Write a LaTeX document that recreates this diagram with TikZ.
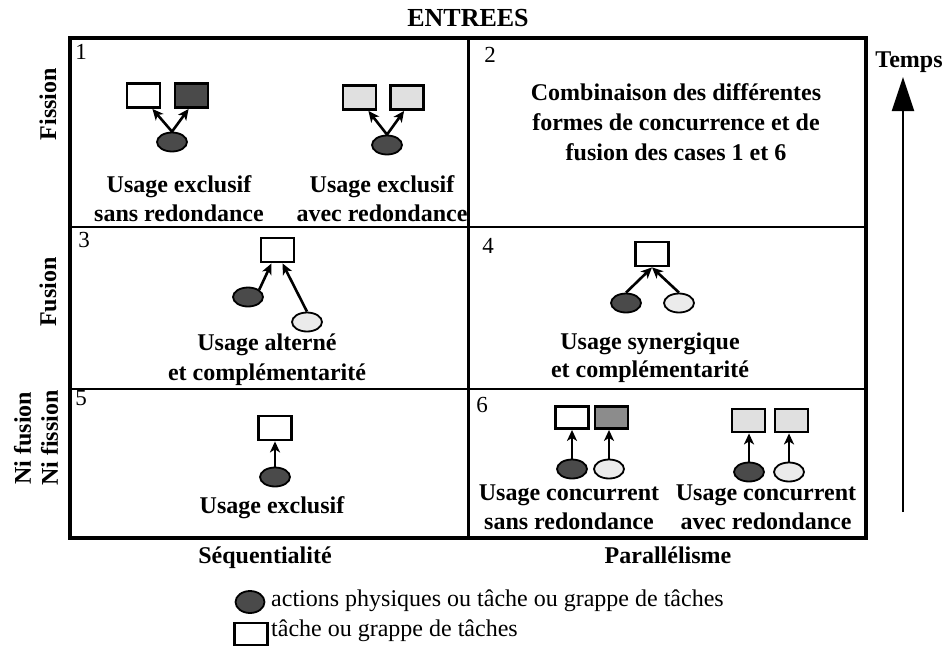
\documentclass[tikz,border=0pt]{standalone}
\usepackage{fontspec}
\setmainfont{Liberation Serif}
\usetikzlibrary{shapes.geometric,arrows.meta}
\definecolor{darkfill}{HTML}{4A4A4A}
\definecolor{midfill}{HTML}{8C8C8C}
\definecolor{lightfill}{HTML}{E0E0E0}
\definecolor{lightell}{HTML}{EBEBEB}
\begin{document}
\begin{tikzpicture}[x=1pt,y=-1pt,
  lbl/.style={font=\fontsize{24}{29}\selectfont\bfseries, align=center, inner sep=0},
  num/.style={font=\fontsize{23}{26}\selectfont, inner sep=0},
  side/.style={font=\fontsize{24}{27}\selectfont\bfseries, align=center, rotate=90, inner sep=0},
  leg/.style={font=\fontsize{24}{26}\selectfont, anchor=west, inner sep=0},
  task/.style={draw, line width=2.8pt, minimum width=33pt, minimum height=24pt, inner sep=0},
  act/.style={draw, ellipse, line width=1.8pt, minimum width=30pt, minimum height=19pt, inner sep=0},
  arr/.style={line width=2.6pt, -{Stealth[length=11pt,width=10pt,inset=3pt]}},
]
\useasboundingbox (0,0) rectangle (949,646);
\fill[white] (0,0) rectangle (949,646);

% grid
\draw[line width=3pt] (468,38) -- (468,538);
\draw[line width=2.5pt] (70,227) -- (866,227);
\draw[line width=2.5pt] (70,389) -- (866,389);
\draw[line width=4.5pt] (70,38) rectangle (866,538);

% axis labels
\node[lbl, font=\fontsize{26}{29}\selectfont\bfseries] (entrees) at (468,18) {ENTREES};
\node[lbl, anchor=base] (seq) at (265,563) {Séquentialité};
\node[lbl, anchor=base] (par) at (668,563) {Parallélisme};
\node[side] (fission) at (48,104) {Fission};
\node[side] (fusion) at (48,292) {Fusion};
\node[side] (nini) at (36,438) {Ni fusion\\Ni fission};

% time arrow
\node[lbl] (temps) at (909,62) {Temps};
\coordinate (tb) at (903,512);
\coordinate (tt) at (903,77);
\draw[line width=2pt, -{Triangle[length=34pt,width=22pt]}] (tb) -- (tt);

% cell numbers
\node[num] (n1) at (81,52) {1};
\node[num] (n2) at (490,55) {2};
\node[num] (n3) at (84,240) {3};
\node[num] (n4) at (488,246) {4};
\node[num] (n5) at (81,398) {5};
\node[num] (n6) at (482,405) {6};

% cell 1
\node[task] (c1a) at (143.5,95.5) {};
\node[task, fill=darkfill] (c1b) at (191.5,95.5) {};
\node[act, fill=darkfill] (c1e) at (172,142) {};
\draw[arr] (c1e.north) -- ([xshift=-9pt]c1a.south east);
\draw[arr] (c1e.north) -- ([xshift=15pt]c1b.south west);
\node[task, fill=lightfill] (c1c) at (359.5,97.5) {};
\node[task, fill=lightfill] (c1d) at (407,97.5) {};
\node[act, fill=darkfill] (c1f) at (387,145) {};
\draw[arr] (c1f.north) -- ([xshift=-9pt]c1c.south east);
\draw[arr] (c1f.north) -- ([xshift=15pt]c1d.south west);
\node[lbl] (t1a) at (179,199) {Usage exclusif\\sans redondance};
\node[lbl] (t1b) at (382,199) {Usage exclusif\\avec redondance};

% cell 2
\node[lbl, font=\fontsize{24}{30}\selectfont\bfseries] (t2) at (676,122) {Combinaison des différentes\\formes de concurrence et de\\fusion des cases 1 et 6};

% cell 3
\node[task] (c3r) at (277.5,250) {};
\node[act, fill=darkfill] (c3a) at (248,297) {};
\node[act, fill=lightell] (c3b) at (307,322) {};
\draw[arr] (c3a.north east) -- ([xshift=-6pt]c3r.south);
\draw[arr] (c3b.north) -- ([xshift=5pt]c3r.south);
\node[lbl, font=\fontsize{24}{30}\selectfont\bfseries] (t3) at (267,360) {Usage alterné\\et complémentarité};

% cell 4
\node[task] (c4r) at (652,254) {};
\node[act, fill=darkfill] (c4a) at (626,303) {};
\node[act, fill=lightell] (c4b) at (679,303) {};
\draw[arr] (c4a.north) -- (c4r.south);
\draw[arr] (c4b.north) -- (c4r.south);
\node[lbl, font=\fontsize{24}{28}\selectfont\bfseries] (t4) at (650,358) {Usage synergique\\et complémentarité};

% cell 5
\node[task] (c5r) at (275,428) {};
\node[act, fill=darkfill] (c5a) at (275,477) {};
\draw[arr] (c5a.north) -- (c5r.south);
\node[lbl] (t5) at (272,508) {Usage exclusif};

% cell 6
\node[task, minimum height=22pt] (c6a) at (572,417.5) {};
\node[task, minimum height=22pt, fill=midfill] (c6b) at (611.5,417.5) {};
\node[act, fill=darkfill] (c6c) at (572,469) {};
\node[act, fill=lightell] (c6d) at (609,469) {};
\draw[arr] (c6c.north) -- (c6c.north |- c6a.south);
\draw[arr] (c6d.north) -- (c6d.north |- c6b.south);
\node[task, minimum height=23pt, fill=lightfill] (c6e) at (748.5,420.5) {};
\node[task, minimum height=23pt, fill=lightfill] (c6f) at (791.5,420.5) {};
\node[act, fill=darkfill] (c6g) at (749,472) {};
\node[act, fill=lightell] (c6h) at (789,472) {};
\draw[arr] (c6g.north) -- (c6g.north |- c6e.south);
\draw[arr] (c6h.north) -- (c6h.north |- c6f.south);
\node[lbl] (t6a) at (569,507) {Usage concurrent\\sans redondance};
\node[lbl] (t6b) at (766,507) {Usage concurrent\\avec redondance};

% legend
\node[act, fill=darkfill, minimum width=29pt, minimum height=22pt] (lg1) at (250,602) {};
\node[leg] (lt1) at (271,601) {actions physiques ou tâche ou grappe de tâches};
\node[task, minimum height=22pt] (lg2) at (251,634) {};
\node[leg] (lt2) at (271,631) {tâche ou grappe de tâches};
\end{tikzpicture}
\end{document}
